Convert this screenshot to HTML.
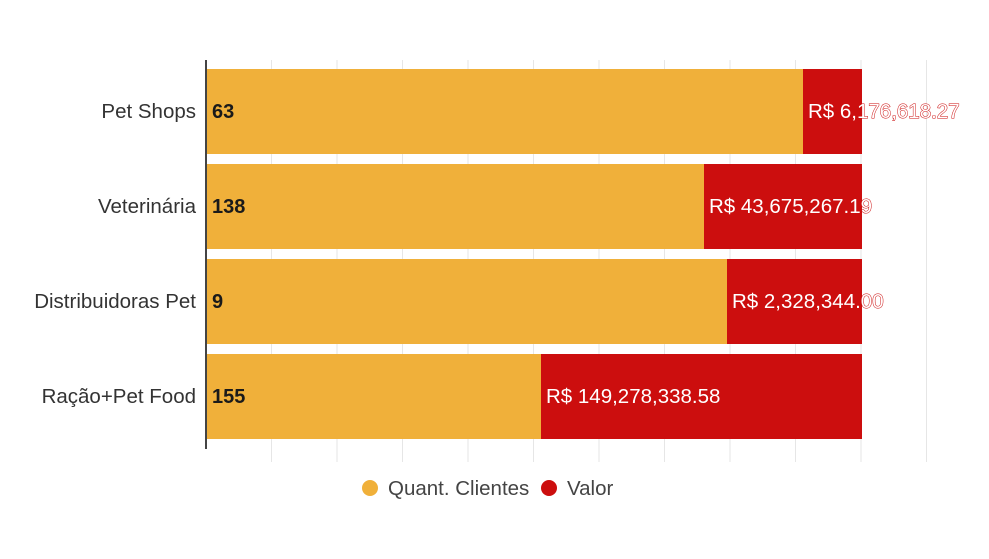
<!DOCTYPE html>
<html><head><meta charset="utf-8"><style>
html,body{margin:0;padding:0;background:#fff;}
svg{display:block;font-family:"Liberation Sans",sans-serif;}
</style></head><body>
<svg width="989" height="559" viewBox="0 0 989 559" xmlns="http://www.w3.org/2000/svg">
<g stroke="#e6e6e6" stroke-width="1">
<line x1="271.5" y1="60" x2="271.5" y2="462"/>
<line x1="337" y1="60" x2="337" y2="462"/>
<line x1="402.5" y1="60" x2="402.5" y2="462"/>
<line x1="468" y1="60" x2="468" y2="462"/>
<line x1="533.5" y1="60" x2="533.5" y2="462"/>
<line x1="599" y1="60" x2="599" y2="462"/>
<line x1="664.5" y1="60" x2="664.5" y2="462"/>
<line x1="730" y1="60" x2="730" y2="462"/>
<line x1="795.5" y1="60" x2="795.5" y2="462"/>
<line x1="861" y1="60" x2="861" y2="462"/>
<line x1="926.5" y1="60" x2="926.5" y2="462"/>
</g>
<g>
<rect x="206" y="69" width="597" height="85" fill="#f0b03a"/><rect x="803" y="69" width="59" height="85" fill="#cc0e0e"/>
<rect x="206" y="164" width="498" height="85" fill="#f0b03a"/><rect x="704" y="164" width="158" height="85" fill="#cc0e0e"/>
<rect x="206" y="259" width="521" height="85" fill="#f0b03a"/><rect x="727" y="259" width="135" height="85" fill="#cc0e0e"/>
<rect x="206" y="354" width="335" height="85" fill="#f0b03a"/><rect x="541" y="354" width="321" height="85" fill="#cc0e0e"/>
</g>
<line x1="206" y1="60" x2="206" y2="449" stroke="#444" stroke-width="2"/>
<g font-size="20.5" fill="#333" text-anchor="end">
<text x="196" y="118">Pet Shops</text>
<text x="196" y="213">Veterinária</text>
<text x="196" y="308">Distribuidoras Pet</text>
<text x="196" y="403">Ração+Pet Food</text>
</g>
<g font-size="20" fill="#1a1a1a" font-weight="bold">
<text x="212" y="118">63</text>
<text x="212" y="213">138</text>
<text x="212" y="308">9</text>
<text x="212" y="403">155</text>
</g>
<g font-size="20.5" fill="#fff" stroke="#cc0e0e" stroke-width="1" paint-order="stroke">
<text x="808" y="118">R$ 6,176,618.27</text>
<text x="709" y="213">R$ 43,675,267.19</text>
<text x="732" y="308">R$ 2,328,344.00</text>
<text x="546" y="403">R$ 149,278,338.58</text>
</g>
<circle cx="370" cy="488" r="8" fill="#f0b03a"/>
<text x="388" y="495" font-size="20.5" fill="#444">Quant. Clientes</text>
<circle cx="549" cy="488" r="8" fill="#cc0e0e"/>
<text x="567" y="495" font-size="20.5" fill="#444">Valor</text>
</svg>
</body></html>
